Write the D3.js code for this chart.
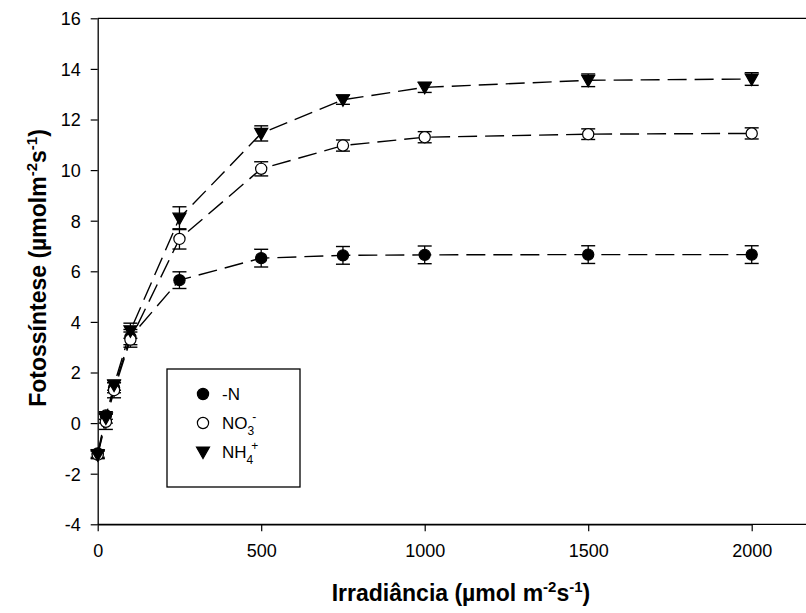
<!DOCTYPE html>
<html>
<head>
<meta charset="utf-8">
<script src="https://cdn.jsdelivr.net/npm/d3@7"></script>
<style>
  body { margin: 0; background: #fff; }
  svg { font-family: "Liberation Sans", Arial, sans-serif; }
</style>
</head>
<body>
<div id="grafico"></div>
<script>
// irradiancia (x)
const irradiancia = [0, 25, 50, 100, 250, 500, 750, 1000, 1500, 2000];

// fotossintese de cada tratamento + erro
const semN = [-1.2, 0.3, 1.4, 3.4, 5.65, 6.52, 6.63, 6.65, 6.66, 6.66];
const semNErro = [0.15, 0.15, 0.2, 0.3, 0.33, 0.35, 0.35, 0.35, 0.35, 0.35];
const nitrato = [-1.25, 0.05, 1.3, 3.3, 7.28, 10.05, 10.97, 11.3, 11.42, 11.45];
const nitratoErro = [0.15, 0.3, 0.3, 0.3, 0.4, 0.28, 0.22, 0.22, 0.21, 0.22];
const amonio = [-1.25, 0.2, 1.5, 3.65, 8.1, 11.45, 12.78, 13.27, 13.55, 13.6];
const amonioErro = [0.15, 0.2, 0.2, 0.3, 0.45, 0.3, 0.18, 0.2, 0.25, 0.25];

const ticksX = [0, 500, 1000, 1500, 2000];
const ticksY = [-4, -2, 0, 2, 4, 6, 8, 10, 12, 14, 16];

const largura = 806;
const altura = 613;

const svg = d3.select("#grafico")
    .append("svg")
    .attr("width", largura)
    .attr("height", altura);

const x = d3.scaleLinear().domain([0, 2000]).range([97.7, 751.7]);
const y = d3.scaleLinear().domain([-4, 16]).range([524.3, 18.3]);

// moldura (topo e base passam da borda)
svg.append("line")
    .attr("x1", x(0)).attr("x2", 812)
    .attr("y1", y(16)).attr("y2", y(16))
    .attr("stroke", "black").attr("stroke-width", 1.3);
svg.append("line")
    .attr("x1", x(0)).attr("x2", 812)
    .attr("y1", y(-4)).attr("y2", y(-4))
    .attr("stroke", "black").attr("stroke-width", 1.3);

// eixos
const eixoX = svg.append("g")
    .attr("transform", `translate(0,${y(-4)})`)
    .call(d3.axisBottom(x).tickValues(ticksX).tickFormat(d => String(d))
        .tickSize(7).tickSizeOuter(0).tickPadding(13));
const eixoY = svg.append("g")
    .attr("transform", `translate(${x(0)},0)`)
    .call(d3.axisLeft(y).tickValues(ticksY).tickFormat(d => String(d))
        .tickSize(7).tickSizeOuter(0).tickPadding(10));

[eixoX, eixoY].forEach(g => {
    g.select(".domain").attr("stroke-width", 1.3);
    g.selectAll(".tick line").attr("stroke-width", 1.2);
    g.selectAll(".tick text")
        .attr("fill", "black")
        .style("font-size", "18px")
        .style("font-family", "'Liberation Sans', Arial, sans-serif");
});
eixoY.selectAll(".tick text").attr("dy", "0.36em");

const series = [
    { nome: "semN", valores: semN, erro: semNErro, simbolo: "circulo", fill: "black" },
    { nome: "nitrato", valores: nitrato, erro: nitratoErro, simbolo: "circulo", fill: "white" },
    { nome: "amonio", valores: amonio, erro: amonioErro, simbolo: "triangulo", fill: "black" }
];

function simbolo(tipo) {
    if (tipo === "circulo") return d3.symbol(d3.symbolCircle, Math.PI * 5.6 * 5.6)();
    // triangulo apontando para baixo
    return "M-6.5,-5L6.5,-5L0,6.5Z";
}

const linha = d3.line()
    .x(d => x(d.x))
    .y(d => y(d.y));

series.forEach(s => {
    const pontos = irradiancia.map((v, i) => ({ x: v, y: s.valores[i], e: s.erro[i] }));

    // linha tracejada
    svg.append("path")
        .datum(pontos)
        .attr("d", linha)
        .attr("fill", "none")
        .attr("stroke", "black")
        .attr("stroke-width", 1.4)
        .attr("stroke-dasharray", "19,8");

    // barras de erro
    const barras = svg.append("g");
    barras.selectAll("line.v")
        .data(pontos).enter().append("line")
        .attr("x1", d => x(d.x)).attr("x2", d => x(d.x))
        .attr("y1", d => y(d.y - d.e)).attr("y2", d => y(d.y + d.e))
        .attr("stroke", "black").attr("stroke-width", 1.3);
    [-1, 1].forEach(sinal => {
        barras.selectAll("line.cap" + sinal)
            .data(pontos).enter().append("line")
            .attr("x1", d => x(d.x) - 7).attr("x2", d => x(d.x) + 7)
            .attr("y1", d => y(d.y + sinal * d.e)).attr("y2", d => y(d.y + sinal * d.e))
            .attr("stroke", "black").attr("stroke-width", 1.4);
    });
});

// marcadores por cima
series.forEach(s => {
    svg.append("g").selectAll("path")
        .data(irradiancia.map((v, i) => ({ x: v, y: s.valores[i] })))
        .enter().append("path")
        .attr("d", simbolo(s.simbolo))
        .attr("transform", d => `translate(${x(d.x)},${y(d.y)})`)
        .attr("fill", s.fill)
        .attr("stroke", "black")
        .attr("stroke-width", 1.2);
});

// legenda
const legenda = svg.append("g");
legenda.append("rect")
    .attr("x", 167).attr("y", 369)
    .attr("width", 133).attr("height", 118)
    .attr("fill", "white").attr("stroke", "black").attr("stroke-width", 1.3);

const itensLegenda = [
    { s: series[0], partes: [["-N", 0]] },
    { s: series[1], partes: [["NO", 0], ["3", 1], ["-", -1]] },
    { s: series[2], partes: [["NH", 0], ["4", 1], ["+", -1]] }
];
itensLegenda.forEach((item, i) => {
    const yy = 394 + i * 29;
    legenda.append("path")
        .attr("d", simbolo(item.s.simbolo))
        .attr("transform", `translate(203,${yy})`)
        .attr("fill", item.s.fill)
        .attr("stroke", "black")
        .attr("stroke-width", 1.2);
    const t = legenda.append("text")
        .attr("x", 222).attr("y", yy + 6)
        .style("font-size", "17px");
    item.partes.forEach(([txt, tipo]) => {
        const span = t.append("tspan").text(txt);
        if (tipo === 1) {
            span.attr("dy", 6).style("font-size", "12px");
        } else if (tipo === -1) {
            span.attr("dx", -2).attr("dy", -14).style("font-size", "12px");
        }
    });
});

// titulos dos eixos
const tituloX = svg.append("text")
    .attr("x", 461).attr("y", 601)
    .attr("text-anchor", "middle")
    .style("font-size", "23px")
    .style("font-weight", "bold");
tituloX.append("tspan").text("Irradiância (µmol m");
tituloX.append("tspan").text("-2").attr("dy", -9).style("font-size", "15px");
tituloX.append("tspan").text("s").attr("dy", 9);
tituloX.append("tspan").text("-1").attr("dy", -9).style("font-size", "15px");
tituloX.append("tspan").text(")").attr("dy", 9);

const tituloY = svg.append("text")
    .attr("transform", "translate(46,268) rotate(-90)")
    .attr("text-anchor", "middle")
    .style("font-size", "23px")
    .style("font-weight", "bold");
tituloY.append("tspan").text("Fotossíntese (µmolm");
tituloY.append("tspan").text("-2").attr("dy", -9).style("font-size", "15px");
tituloY.append("tspan").text("s").attr("dy", 9);
tituloY.append("tspan").text("-1").attr("dy", -9).style("font-size", "15px");
tituloY.append("tspan").text(")").attr("dy", 9);
</script>
</body>
</html>
